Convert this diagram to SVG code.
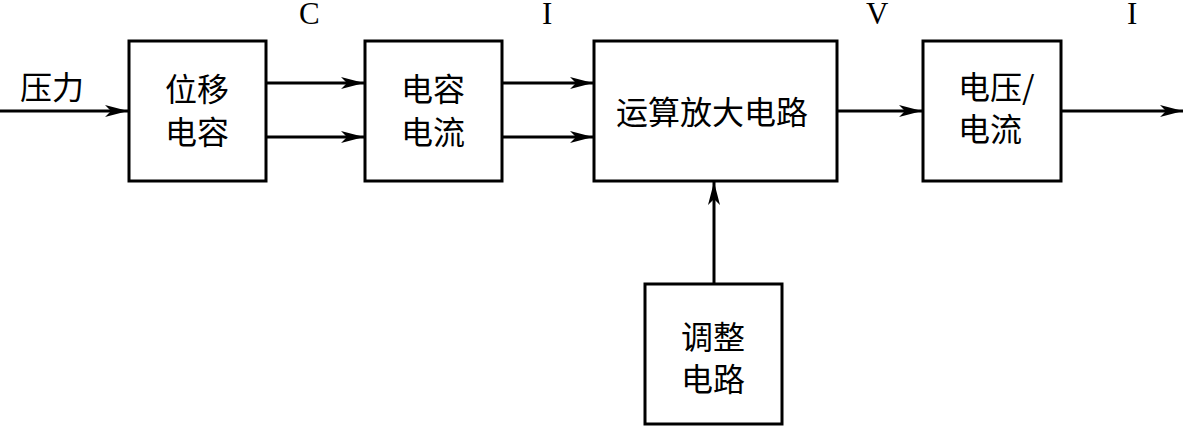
<svg xmlns="http://www.w3.org/2000/svg" width="1185" height="426" viewBox="0 0 1185 426">
<style>
.box{fill:#fff;stroke:#000;stroke-width:3}
.cn{font-family:"Noto Sans CJK SC","Noto Sans CJK JP",sans-serif;font-size:32px;fill:#000}
.lat{font-family:"Liberation Serif",serif;font-size:31px;fill:#000}
.ln{stroke:#000;stroke-width:3;fill:none;marker-end:url(#ah)}
</style>
<defs>
<marker id="ah" markerUnits="userSpaceOnUse" markerWidth="26" markerHeight="14" viewBox="-24 -7 26 14" refX="0" refY="0" orient="auto">
<path d="M0,0 L-23,-6 L-17,0 L-23,6 Z" fill="#000"/>
</marker>
</defs>
<rect width="1185" height="426" fill="#fff"/>
<g id="connectors">
<line class="ln" x1="0" y1="111" x2="128" y2="111"/>
<line class="ln" x1="266" y1="83" x2="364" y2="83"/>
<line class="ln" x1="266" y1="137" x2="364" y2="137"/>
<line class="ln" x1="502" y1="83" x2="593" y2="83"/>
<line class="ln" x1="502" y1="137" x2="593" y2="137"/>
<line class="ln" x1="837" y1="111" x2="922" y2="111"/>
<line class="ln" x1="1061" y1="111" x2="1183" y2="111"/>
<line class="ln" x1="714" y1="284" x2="714" y2="182"/>
</g>
<g id="labels">
<text class="cn" x="20" y="99">压力</text>
<text class="lat" x="299" y="24">C</text>
<text class="lat" x="542" y="24">I</text>
<text class="lat" x="866" y="24">V</text>
<text class="lat" x="1127" y="24">I</text>
</g>
<g id="n1">
<rect class="box" x="129" y="41" width="137" height="140"/>
<text class="cn" x="197" y="101" text-anchor="middle">位移</text>
<text class="cn" x="197" y="144" text-anchor="middle">电容</text>
</g>
<g id="n2">
<rect class="box" x="365" y="41" width="137" height="140"/>
<text class="cn" x="433" y="101" text-anchor="middle">电容</text>
<text class="cn" x="433" y="144" text-anchor="middle">电流</text>
</g>
<g id="n3">
<rect class="box" x="594" y="41" width="243" height="140"/>
<text class="cn" x="712" y="124" text-anchor="middle">运算放大电路</text>
</g>
<g id="n4">
<rect class="box" x="923" y="41" width="138" height="140"/>
<text class="cn" x="958" y="99">电压/</text>
<text class="cn" x="958" y="141">电流</text>
</g>
<g id="n5">
<rect class="box" x="645" y="284" width="137" height="140"/>
<text class="cn" x="713" y="349" text-anchor="middle">调整</text>
<text class="cn" x="713" y="391" text-anchor="middle">电路</text>
</g>
</svg>
